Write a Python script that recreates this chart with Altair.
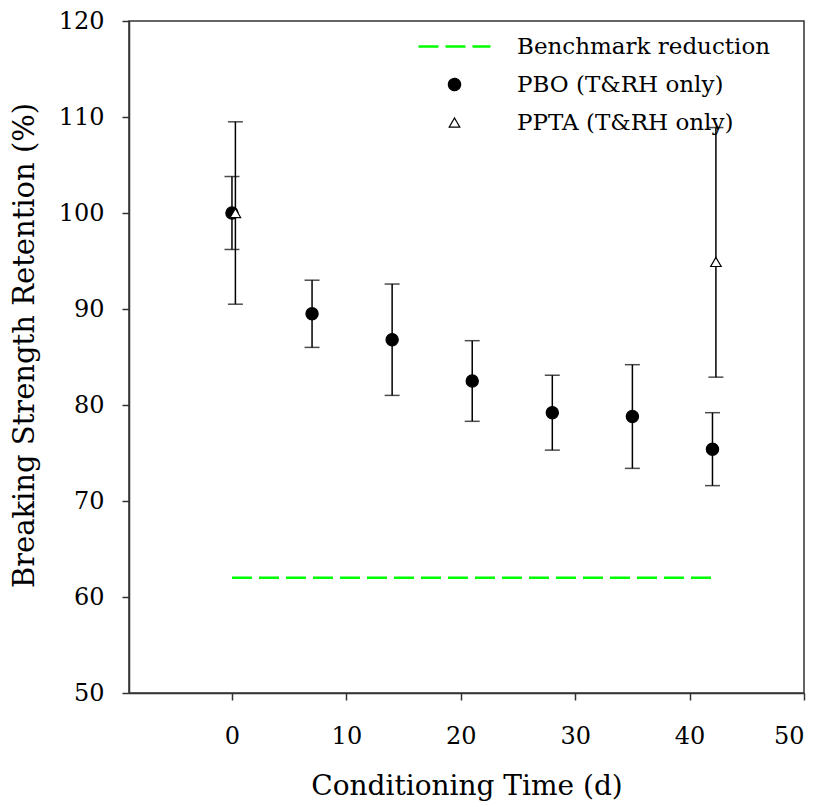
import altair as alt
import pandas as pd

# ---- data ----
days = [0, 7, 14, 21, 28, 35, 42]
pbo_mean = [100.0, 89.5, 86.8, 82.5, 79.2, 78.8, 75.4]
pbo_lo = [96.2, 86.0, 81.0, 78.3, 75.3, 73.4, 71.6]
pbo_hi = [103.8, 93.0, 92.6, 86.7, 83.1, 84.2, 79.2]

ppta_days = [0.3, 42.3]
ppta_mean = [100.0, 94.9]
ppta_lo = [90.5, 82.9]
ppta_hi = [109.5, 108.9]

bench_start = [0]
bench_end = [42]
bench_level = [62]

series = ["Benchmark reduction", "PBO (T&RH only)", "PPTA (T&RH only)"]
x_ticks = [0, 10, 20, 30, 40, 50]
y_ticks = [50, 60, 70, 80, 90, 100, 110, 120]

FONT = "DejaVu Serif"

rows = []
for d, m, lo, hi in zip(days, pbo_mean, pbo_lo, pbo_hi):
    rows.append({"day": d, "mean": m, "lo": lo, "hi": hi, "series": series[1]})
for d, m, lo, hi in zip(ppta_days, ppta_mean, ppta_lo, ppta_hi):
    rows.append({"day": d, "mean": m, "lo": lo, "hi": hi, "series": series[2]})
pts = pd.DataFrame(rows)

bench = pd.DataFrame({"x": bench_start, "x2": bench_end, "y": bench_level, "series": [series[0]]})

xs = alt.Scale(domain=[-9, 50], nice=False, zero=False)
ys = alt.Scale(domain=[50, 120], nice=False, zero=False)
xaxis = alt.Axis(values=x_ticks, title="Conditioning Time (d)", format="d")
yaxis = alt.Axis(values=y_ticks, title="Breaking Strength Retention (%)", format="d",
                 titleFontSize=29, titleY=324)

leg = alt.Legend(title=None)
shape_scale = alt.Scale(domain=series, range=["stroke", "circle", "triangle-up"])
fill_scale = alt.Scale(domain=series, range=["transparent", "black", "white"])
stroke_scale = alt.Scale(domain=series, range=["#00ff00", "black", "black"])
size_scale = alt.Scale(type="ordinal", domain=series, range=[5184, 150, 110])
dash_scale = alt.Scale(domain=series, range=[[20, 7], [1, 0], [1, 0]])
sw_scale = alt.Scale(type="ordinal", domain=series, range=[2.5, 1.2, 1.2])

bench_line = alt.Chart(bench).mark_rule().encode(
    x=alt.X("x:Q", scale=xs, axis=xaxis),
    x2="x2:Q",
    y=alt.Y("y:Q", scale=ys, axis=yaxis),
    stroke=alt.Stroke("series:N", scale=stroke_scale, legend=leg),
    strokeDash=alt.StrokeDash("series:N", scale=dash_scale, legend=leg),
    strokeWidth=alt.StrokeWidth("series:N", scale=sw_scale, legend=leg),
)

base = alt.Chart(pts)
err = base.mark_rule(color="black", strokeWidth=1.5).encode(
    x=alt.X("day:Q", scale=xs, axis=xaxis),
    y=alt.Y("lo:Q", scale=ys, axis=yaxis),
    y2="hi:Q",
)
cap_lo = base.mark_tick(orient="horizontal", size=15, thickness=1.5, color="black").encode(
    x=alt.X("day:Q", scale=xs, axis=xaxis),
    y=alt.Y("lo:Q", scale=ys, axis=yaxis),
)
cap_hi = base.mark_tick(orient="horizontal", size=15, thickness=1.5, color="black").encode(
    x=alt.X("day:Q", scale=xs, axis=xaxis),
    y=alt.Y("hi:Q", scale=ys, axis=yaxis),
)
points = base.mark_point(filled=True, opacity=1, strokeWidth=1.2).encode(
    x=alt.X("day:Q", scale=xs, axis=xaxis),
    y=alt.Y("mean:Q", scale=ys, axis=yaxis),
    shape=alt.Shape("series:N", scale=shape_scale, legend=leg),
    fill=alt.Fill("series:N", scale=fill_scale, legend=leg),
    stroke=alt.Stroke("series:N", scale=stroke_scale, legend=leg),
    size=alt.Size("series:N", scale=size_scale, legend=leg),
)

chart = alt.layer(bench_line, err, cap_lo, cap_hi, points).properties(
    width=675,
    height=672,
    autosize=alt.AutoSizeParams(type="none"),
    padding={"left": 121, "top": 13, "right": 10, "bottom": 112},
    background="white",
).configure_view(
    stroke="#333333", strokeWidth=1.5
).configure_axis(
    grid=False,
    domainColor="#333333",
    domainWidth=1.5,
    tickColor="#333333",
    tickWidth=1.5,
    tickSize=7,
    labelFont=FONT,
    labelFontSize=24,
    labelColor="black",
    titleFont=FONT,
    titleFontSize=28,
    titleFontWeight="normal",
    titleColor="black",
).configure_axisX(
    labelPadding=24, titlePadding=24,
).configure_axisY(
    labelPadding=18, titlePadding=19,
).configure_legend(
    orient="none",
    legendX=288,
    legendY=-12,
    padding=0,
    labelFont=FONT,
    labelFontSize=23,
    labelColor="black",
    labelOffset=25,
    labelLimit=0,
    rowPadding=14,
)

chart.save("out.html", embed_options={"renderer": "svg", "actions": False})
